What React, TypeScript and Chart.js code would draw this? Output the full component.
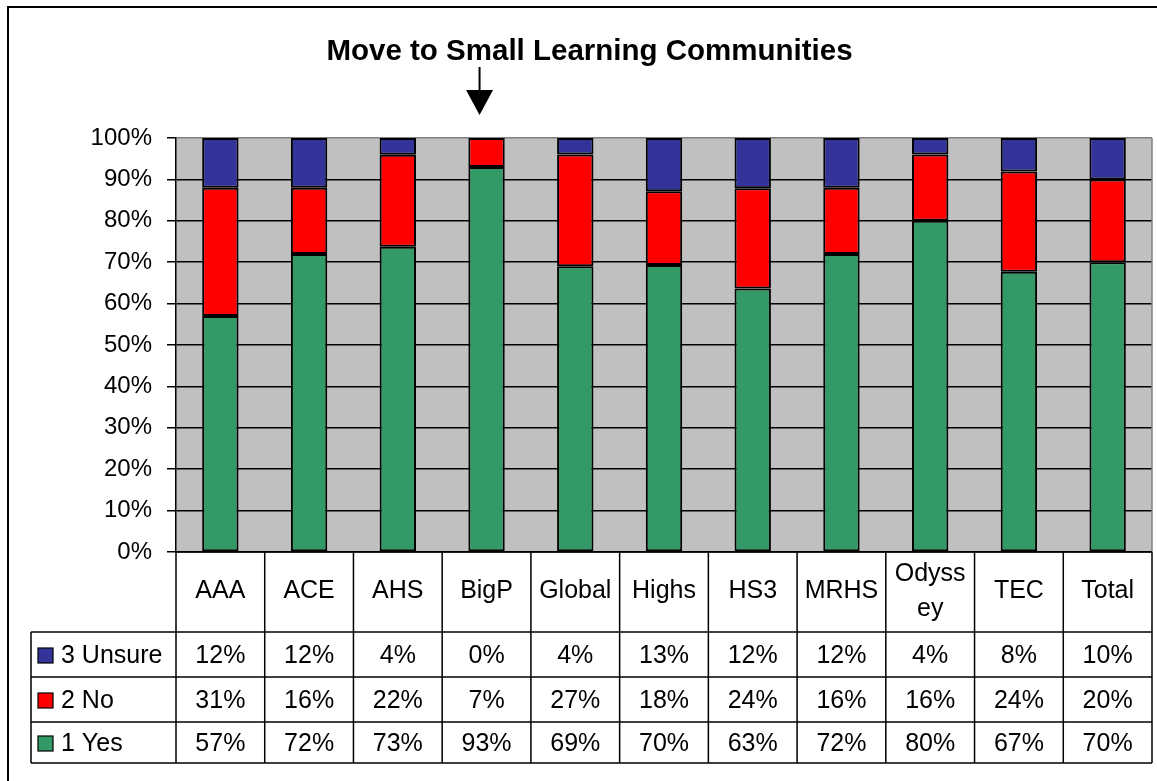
import React, { useEffect, useRef } from "react";
import { Chart, registerables } from "chart.js";

Chart.register(...registerables);

const categories = ["AAA", "ACE", "AHS", "BigP", "Global", "Highs", "HS3", "MRHS", "Odyssey", "TEC", "Total"];
const headerLines = [["AAA"], ["ACE"], ["AHS"], ["BigP"], ["Global"], ["Highs"], ["HS3"], ["MRHS"], ["Odyss", "ey"], ["TEC"], ["Total"]];
const yesValues = [57, 72, 73, 93, 69, 70, 63, 72, 80, 67, 70];
const noValues = [31, 16, 22, 7, 27, 18, 24, 16, 16, 24, 20];
const unsureValues = [12, 12, 4, 0, 4, 13, 12, 12, 4, 8, 10];
const seriesNames = ["1 Yes", "2 No", "3 Unsure"];
const seriesColors = ["#339966", "#FF0000", "#333399"];
const titleText = "Move to Small Learning Communities";
const arrowCategory = "BigP";

const FONT = '"Liberation Sans", Arial, sans-serif';

const totals = categories.map((_, i) => yesValues[i] + noValues[i] + unsureValues[i]);
const pct = (arr: number[]) => arr.map((v, i) => (v / totals[i]) * 100);

const tablePlugin = {
  id: "tablePlugin",
  beforeDraw(chart: any) {
    const { ctx, chartArea: a, width, height } = chart;
    ctx.save();
    ctx.fillStyle = "#ffffff";
    ctx.fillRect(0, 0, width, height);
    ctx.fillStyle = "#C0C0C0";
    ctx.fillRect(a.left, a.top, a.right - a.left, a.bottom - a.top);
    ctx.restore();
  },
  afterDraw(chart: any) {
    const { ctx, chartArea: a } = chart;
    const n = categories.length;
    const colW = (a.right - a.left) / n;
    ctx.save();

    // plot right border
    ctx.strokeStyle = "#808080";
    ctx.lineWidth = 1.5;
    ctx.beginPath();
    ctx.moveTo(a.right, a.top);
    ctx.lineTo(a.right, a.bottom);
    ctx.stroke();

    // outer frame (cut off at right/bottom)
    ctx.strokeStyle = "#000";
    ctx.lineWidth = 2;
    ctx.beginPath();
    ctx.moveTo(8, chart.height);
    ctx.lineTo(8, 7);
    ctx.lineTo(chart.width, 7);
    ctx.stroke();

    // title
    ctx.fillStyle = "#000";
    ctx.font = "bold 29.5px " + FONT;
    ctx.textAlign = "center";
    ctx.textBaseline = "middle";
    ctx.fillText(titleText, 589.5, 51.5);

    // arrow
    const xs = chart.scales.x;
    const ax = xs.getPixelForValue(categories.indexOf(arrowCategory)) - 7;
    ctx.lineWidth = 2;
    ctx.beginPath();
    ctx.moveTo(ax, 67);
    ctx.lineTo(ax, 92);
    ctx.stroke();
    ctx.beginPath();
    ctx.moveTo(ax - 13.5, 90);
    ctx.lineTo(ax + 13.5, 90);
    ctx.lineTo(ax, 115);
    ctx.closePath();
    ctx.fill();

    // data table
    const y0 = a.bottom;
    const rows = [y0 + 80, y0 + 125, y0 + 170, y0 + 211];
    const legendLeft = 31;
    ctx.strokeStyle = "#000";
    ctx.lineWidth = 1.5;
    ctx.beginPath();
    for (let i = 0; i <= n; i++) {
      const x = a.left + i * colW;
      ctx.moveTo(x, y0);
      ctx.lineTo(x, rows[3]);
    }
    ctx.moveTo(legendLeft, rows[0]);
    ctx.lineTo(legendLeft, rows[3]);
    rows.forEach((y) => {
      ctx.moveTo(legendLeft, y);
      ctx.lineTo(a.right, y);
    });
    ctx.moveTo(a.left, y0);
    ctx.lineTo(a.right, y0);
    ctx.stroke();

    // header labels
    ctx.font = "25px " + FONT;
    ctx.textAlign = "center";
    ctx.textBaseline = "middle";
    headerLines.forEach((lines, i) => {
      const cx = a.left + (i + 0.5) * colW;
      if (lines.length === 1) {
        ctx.fillText(lines[0], cx, y0 + 39);
      } else {
        ctx.fillText(lines[0], cx, y0 + 22);
        ctx.fillText(lines[1], cx, y0 + 57);
      }
    });

    // rows: Unsure, No, Yes
    const rowData = [unsureValues, noValues, yesValues];
    const rowNames = [seriesNames[2], seriesNames[1], seriesNames[0]];
    const rowColors = [seriesColors[2], seriesColors[1], seriesColors[0]];
    rowData.forEach((vals, r) => {
      const cy = (rows[r] + rows[r + 1]) / 2 + 1.5;
      ctx.fillStyle = "#000";
      ctx.textAlign = "center";
      vals.forEach((v, i) => {
        const cx = a.left + (i + 0.5) * colW;
        ctx.fillText(v + "%", cx, cy);
      });
      // legend key
      ctx.fillStyle = rowColors[r];
      ctx.fillRect(38, cy - 8, 15, 15);
      ctx.lineWidth = 1.2;
      ctx.strokeStyle = "#000";
      ctx.strokeRect(38, cy - 8, 15, 15);
      ctx.fillStyle = "#000";
      ctx.textAlign = "left";
      ctx.fillText(rowNames[r], 61, cy);
    });

    ctx.restore();
  },
};

export default function App() {
  const ref = useRef<HTMLCanvasElement | null>(null);
  useEffect(() => {
    if (!ref.current) return;
    const chart = new Chart(ref.current, {
      type: "bar",
      data: {
        labels: categories,
        datasets: [
          { label: seriesNames[0], data: pct(yesValues), backgroundColor: seriesColors[0] },
          { label: seriesNames[1], data: pct(noValues), backgroundColor: seriesColors[1] },
          { label: seriesNames[2], data: pct(unsureValues), backgroundColor: seriesColors[2] },
        ].map((d) => ({
          ...d,
          borderColor: "#000",
          borderWidth: 2,
          borderSkipped: false,
          categoryPercentage: 1,
          barPercentage: 0.41,
        })),
      },
      options: {
        animation: false,
        responsive: false,
        events: [],
        layout: { padding: { top: 138, left: 0, right: 5, bottom: 229 } },
        plugins: { legend: { display: false }, tooltip: { enabled: false }, title: { display: false } },
        scales: {
          x: { stacked: true, display: false },
          y: {
            stacked: true,
            min: 0,
            max: 100,
            afterFit: (s: any) => {
              s.width = 176;
            },
            ticks: {
              stepSize: 10,
              padding: 15,
              color: "#000",
              font: { family: FONT, size: 24 },
              callback: (v: any) => v + "%",
            },
            grid: {
              color: (c: any) => (c.tick && c.tick.value === 100 ? "#808080" : "#000"),
              lineWidth: 1.5,
              tickLength: 9,
              tickColor: "#000",
            },
            border: { display: true, color: "#000", width: 1.5 },
          },
        },
      },
      plugins: [tablePlugin],
    } as any);
    return () => chart.destroy();
  }, []);
  return (
    <div style={{ position: "absolute", left: 0, top: 0, width: 1157, height: 781 }}>
      <canvas ref={ref} width={1157} height={781} style={{ display: "block", width: 1157, height: 781 }} />
    </div>
  );
}
